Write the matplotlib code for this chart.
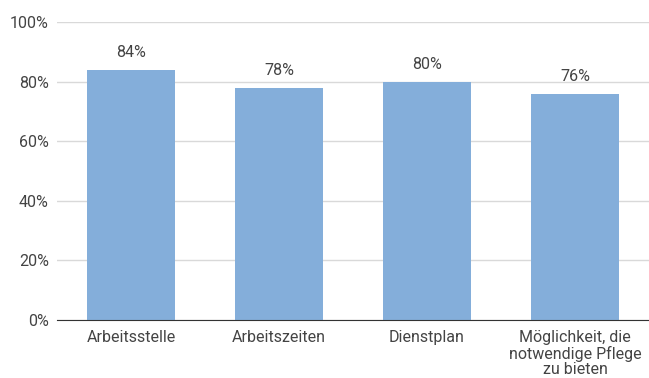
import matplotlib.pyplot as plt

kategorien = ['Arbeitsstelle', 'Arbeitszeiten', 'Dienstplan',
              'Möglichkeit, die\nnotwendige Pflege\nzu bieten']
werte = [84, 78, 80, 76]

plt.rcParams['font.family'] = ['Roboto', 'DejaVu Sans']
plt.rcParams['font.weight'] = 'normal'

fig = plt.figure(figsize=(6.49, 3.78), dpi=100)
ax = fig.add_axes([0.088, 0.1534, 0.912, 0.7884])

x = range(len(kategorien))
ax.bar(x, werte, width=0.6, color='#84aeda', zorder=2)
for xi, v in zip(x, werte):
    ax.annotate(f'{v}%', (xi, v), xytext=(0, 7), textcoords='offset points',
                ha='center', va='bottom', fontsize=11.5, color='#444444')

ax.set_xlim(-0.5, 3.5)
ax.set_ylim(0, 100)
ax.set_yticks(range(0, 101, 20))
ax.set_yticklabels([f'{t}%' for t in range(0, 101, 20)])
ax.set_xticks(list(x))
ax.set_xticklabels(kategorien, linespacing=1.06)
ax.tick_params(axis='both', length=0, labelsize=11.5, colors='#444444')
ax.tick_params(axis='x', pad=7)
ax.tick_params(axis='y', pad=6)
ax.yaxis.grid(True, color='#d9d9d9', linewidth=1, zorder=0)
for s in ['top', 'right', 'left']:
    ax.spines[s].set_visible(False)
ax.spines['bottom'].set_color('#333333')
ax.spines['bottom'].set_zorder(3)

fig.savefig('out.png', dpi=100)
